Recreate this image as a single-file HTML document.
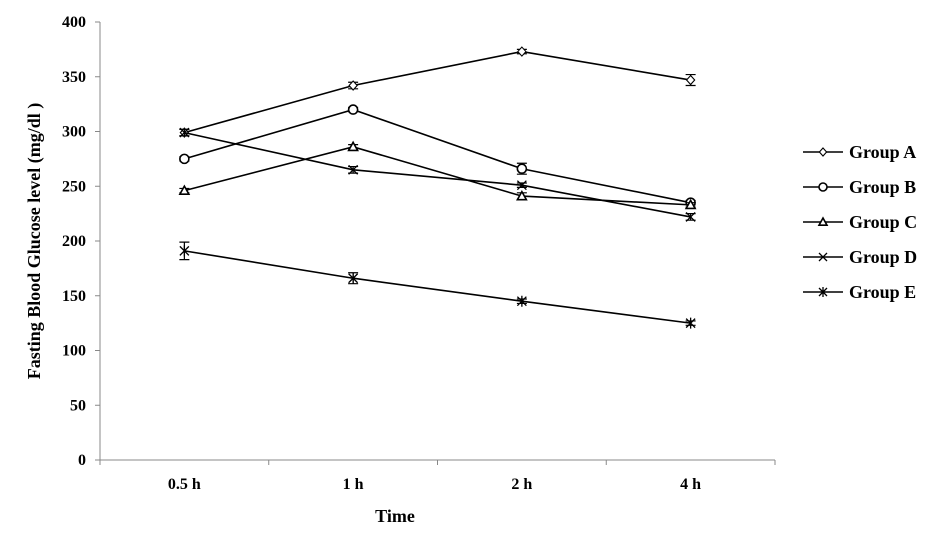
<!DOCTYPE html>
<html><head><meta charset="utf-8"><style>
body{margin:0;background:#fff;}
svg text{font-family:"Liberation Serif",serif;font-weight:bold;fill:#000;}
</style></head><body>
<svg id="chart" width="952" height="548" xmlns="http://www.w3.org/2000/svg"></svg>
<script>
const categories=["0.5 h","1 h","2 h","4 h"];
const groupNames=["Group A","Group B","Group C","Group D","Group E"];
const groupA=[299,342,373,347];
const groupB=[275,320,266,235];
const groupC=[246,286,241,233];
const groupD=[299,265,251,222];
const groupE=[191,166,145,125];
const errA=[3,3,2,5];
const errB=[2,2,5,2];
const errC=[2,2,3,2];
const errD=[3,3,2,3];
const errE=[8,5,2,2];
const yTicks=[0,50,100,150,200,250,300,350,400];
const series=[groupA,groupB,groupC,groupD,groupE];
const errs=[errA,errB,errC,errD,errE];
const markers=["diamond","circle","triangle","x","star"];
const svg=document.getElementById('chart');
const NS="http://www.w3.org/2000/svg";
const x0=100,x1=775,yb=460,yt=22;
const band=(x1-x0)/categories.length;
const xs=i=>x0+band*(i+0.5);
const ys=v=>yb-(v/400)*(yb-yt);
function mk(t,a,p){const e=document.createElementNS(NS,t);for(const k in a)e.setAttribute(k,a[k]);(p||svg).appendChild(e);return e;}
function marker(type,x,y,g,r){
 r=r||5;
 const s={stroke:"#000","stroke-width":1.3,fill:"none"};
 if(type==="diamond")mk("path",{d:`M${x},${y-r}L${x+r*0.9},${y}L${x},${y+r}L${x-r*0.9},${y}Z`,fill:"#fff",stroke:"#000","stroke-width":1.1},g);
 else if(type==="circle")mk("circle",{cx:x,cy:y,r:r,fill:"#fff",stroke:"#000","stroke-width":1.6},g);
 else if(type==="triangle")mk("path",{d:`M${x},${y-r}L${x+r},${y+r*0.8}L${x-r},${y+r*0.8}Z`,fill:"#fff",stroke:"#000","stroke-width":1.6},g);
 else if(type==="x")mk("path",Object.assign({d:`M${x-r},${y-r}L${x+r},${y+r}M${x+r},${y-r}L${x-r},${y+r}`},s),g);
 else mk("path",Object.assign({d:`M${x-r},${y-r}L${x+r},${y+r}M${x+r},${y-r}L${x-r},${y+r}M${x},${y-r-1}L${x},${y+r+1}`},s),g);
}
const ax=mk("g",{});  
mk("line",{x1:x0,y1:yt,x2:x0,y2:yb,stroke:"#888","stroke-width":1},ax);
mk("line",{x1:x0,y1:yb,x2:x1,y2:yb,stroke:"#888","stroke-width":1},ax);
yTicks.forEach(v=>{
 const y=ys(v);
 mk("line",{x1:x0-5,y1:y,x2:x0,y2:y,stroke:"#888"},ax);
 const t=mk("text",{x:x0-14,y:y+5,"text-anchor":"end","font-size":16},ax);t.textContent=v;
  
});
for(let i=0;i<=categories.length;i++)mk("line",{x1:x0+band*i,y1:yb,x2:x0+band*i,y2:yb+5,stroke:"#888"},ax);
categories.forEach((c,i)=>{
 const t=mk("text",{x:xs(i),y:489,"text-anchor":"middle","font-size":16},ax);t.textContent=c;
  
});
const xt=mk("text",{x:395,y:522,"text-anchor":"middle","font-size":18});xt.textContent="Time";
 
const yt2=mk("text",{x:0,y:0,"text-anchor":"middle","font-size":18,transform:"translate(40,241) rotate(-90)"});yt2.textContent="Fasting Blood Glucose level (mg/dl )";
 
series.forEach((d,si)=>{
 const g=mk("g",{});
 
 
 mk("polyline",{points:d.map((v,i)=>xs(i)+","+ys(v)).join(" "),fill:"none",stroke:"#000","stroke-width":1.6},g);
 d.forEach((v,i)=>{
  const x=xs(i),e=errs[si][i];
  mk("path",{d:`M${x},${ys(v+e)}L${x},${ys(v-e)}M${x-5},${ys(v+e)}L${x+5},${ys(v+e)}M${x-5},${ys(v-e)}L${x+5},${ys(v-e)}`,stroke:"#000","stroke-width":1.2},g);
  marker(markers[si],x,ys(v),g,4.5);
 });
});
groupNames.forEach((n,i)=>{
 const g=mk("g",{});
  
 const y=152+i*35;
 mk("line",{x1:803,y1:y,x2:843,y2:y,stroke:"#000","stroke-width":1.6},g);
 marker(markers[i],823,y,g,4);
 const t=mk("text",{x:849,y:y+6,"font-size":18},g);t.textContent=n;
});
</script>
</body></html>
